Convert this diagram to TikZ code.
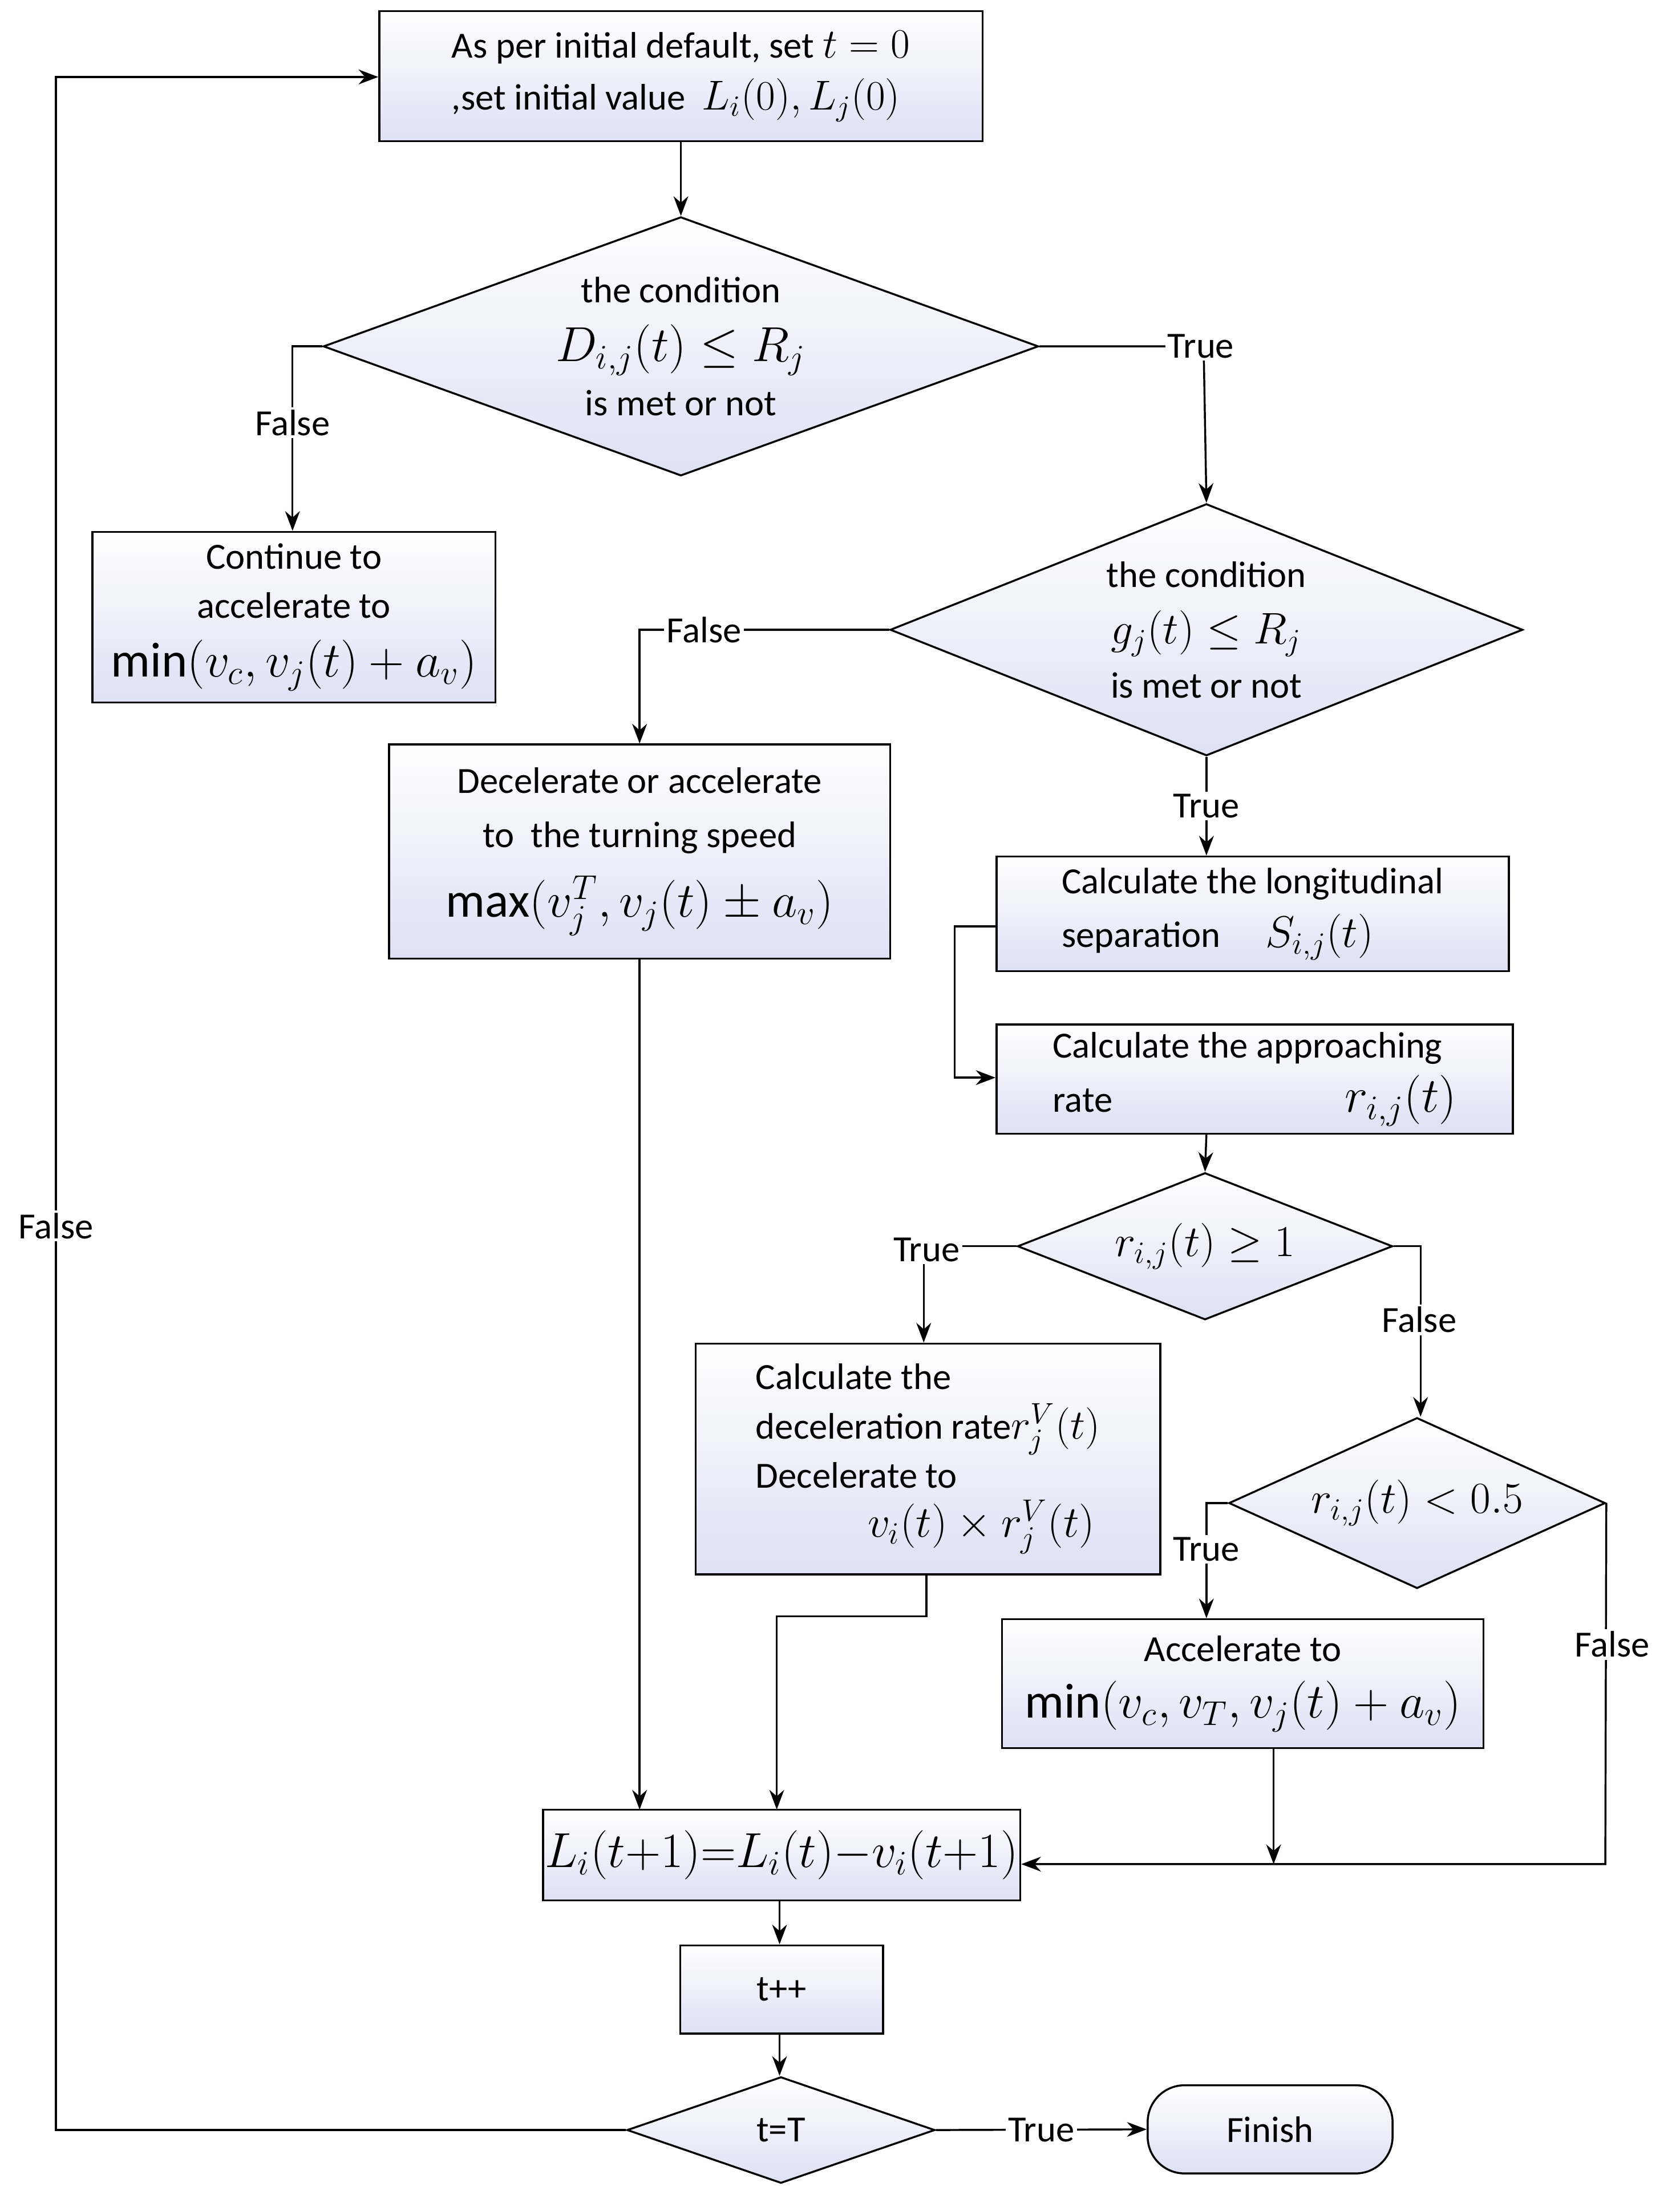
\documentclass[tikz,border=0pt]{standalone}
\usepackage{fix-cm}
\usepackage{fontspec}
\setmainfont{Carlito}
\usetikzlibrary{shapes.geometric,arrows.meta}
\definecolor{shadeb}{RGB}{222,224,244}
\newcommand{\mS}{\fontsize{17}{20}\selectfont}
\newcommand{\mM}{\fontsize{18}{21}\selectfont}
\newcommand{\mL}{\fontsize{20}{23}\selectfont}
\pgfdeclarelayer{bg}
\pgfsetlayers{bg,main}
\begin{document}
\fontsize{15}{18}\selectfont
\begin{tikzpicture}[x=0.02cm,y=-0.02cm,
  box/.style={draw,line width=0.8pt,top color=white,bottom color=shadeb,align=center,inner sep=2pt},
  dia/.style={draw,line width=0.8pt,diamond,top color=white,bottom color=shadeb,align=center,inner sep=0pt},
  arr/.style={line width=0.8pt,-{Stealth[length=8pt,width=6pt]}},
  lab/.style={fill=white,inner sep=1pt}]
\useasboundingbox (0,0) rectangle (1200,1577);
% boxes
\node[box,minimum width=431*0.02cm,minimum height=93*0.02cm,align=left] (b1) at (486.5,54.5) {As per initial default, set {\mS$t=0$}\\[3pt],set initial value \ {\mS$L_i(0),L_j(0)$}};
\node[dia,minimum width=511*0.02cm,minimum height=185*0.02cm] (d1) at (486.5,247.5) {};
\node[align=center] at (d1) {the condition\\[6pt] {\mL $D_{i,j}(t)\le R_j$}\\[4pt] is met or not};
\node[box,minimum width=288*0.02cm,minimum height=122*0.02cm] (b2) at (210,441) {Continue to\\[2pt] accelerate to\\[6pt] {\mL $\min(v_c,v_j(t)+a_v)$}};
\node[dia,minimum width=452*0.02cm,minimum height=180*0.02cm] (d2) at (862,450) {};
\node[align=center] at (d2) {the condition\\[5pt] {\mM $g_j(t)\le R_j$}\\[4pt] is met or not};
\node[box,minimum width=358*0.02cm,minimum height=153*0.02cm] (b3) at (457,608.5) {Decelerate or accelerate\\[4pt] to\ \ the turning speed\\[8pt] {\mL $\max(v_j^T,v_j(t)\pm a_v)$}};
\node[box,minimum width=366*0.02cm,minimum height=82*0.02cm,align=left] (b4) at (895,653) {Calculate the longitudinal\\[4pt] separation \quad {\mM $S_{i,j}(t)$}};
\node[box,minimum width=369*0.02cm,minimum height=78*0.02cm,align=left] (b5) at (896.5,771) {Calculate the approaching\\[4pt] rate \hspace{3.2cm}{\mL $r_{i,j}(t)$}};
\node[dia,minimum width=268*0.02cm,minimum height=105*0.02cm] (d3) at (861,890.5) {};
\node at (d3) {\mM $r_{i,j}(t)\ge1$};
\node[box,minimum width=332*0.02cm,minimum height=165*0.02cm,align=left] (b6) at (663,1042.5) {Calculate the\\[2pt] deceleration rate{\mS$r_j^V(t)$}\\[2pt] Decelerate to\\[2pt] \hspace{1.6cm}{\mM $v_i(t)\times r_j^V(t)$}};
\node[dia,minimum width=269*0.02cm,minimum height=122*0.02cm] (d4) at (1012.5,1074) {};
\node at (d4) {\mM $r_{i,j}(t)<0.5$};
\node[box,minimum width=344*0.02cm,minimum height=92*0.02cm] (b7) at (888,1203) {Accelerate to\\[5pt] {\mL $\min(v_c,v_T,v_j(t)+a_v)$}};
\node[box,minimum width=341*0.02cm,minimum height=65*0.02cm,inner sep=0pt] (b8) at (558.5,1325.5) {\fontsize{20}{22}\selectfont $L_i(t{+}1){=}L_i(t){-}v_i(t{+}1)$};
\node[box,minimum width=145*0.02cm,minimum height=63*0.02cm] (b9) at (558.5,1421.5) {t++};
\node[dia,minimum width=220*0.02cm,minimum height=76*0.02cm] (d5) at (558,1522) {};
\node at (d5) {t=T};
\node[box,rounded corners=15pt,minimum width=175*0.02cm,minimum height=63*0.02cm] (fin) at (907.5,1521.5) {Finish};
% coordinates
\coordinate (f1) at (40,1522);
\coordinate (f2) at (40,55);
% connectors
\begin{pgfonlayer}{bg}
\draw[arr] (b1.south) -- (d1.north);
\draw[arr] (d1.west) -- (209,247.5) -- (b2.north -| 209,0);
\draw[arr] (d1.east) -- (860,247.5) -- (d2.north);
\draw[arr] (d2.west) -- (457,450) -- (b3.north);
\draw[arr] (d2.south) -- (b4.north -| d2.south);
\draw[arr] (b4.west |- 0,662) -- (682,662) -- (682,770) -- (b5.west |- 0,770);
\draw[arr] (862,810) -- (d3.north);
\draw[arr] (d3.west) -- (660,890.5) -- (b6.north -| 660,0);
\draw[arr] (d3.east) -- (1015,890.5) -- (d4.north -| 1015,0);
\draw[arr] (d4.west) -- (862,1074) -- (b7.north -| 862,0);
\draw[arr] (d4.east) -- (1147,1332) -- (b8.east |- 0,1332);
\draw[arr] (910,1249) -- (910,1332);
\draw[arr] (b3.south) -- (457,1293);
\draw[arr] (662,1125) -- (662,1155) -- (555,1155) -- (555,1293);
\draw[arr] (b8.south -| 557,0) -- (b9.north -| 557,0);
\draw[arr] (b9.south -| 557,0) -- (d5.north -| 557,0);
\draw[arr] (d5.east) -- (fin.west);
\draw[arr] (d5.west) -- (f1) -- (f2) -- (b1.west |- f2);
\end{pgfonlayer}
\node[lab] at (209,302) {False};
\node[lab] at (858,247.5) {True};
\node[lab] at (503,450) {False};
\node[lab] at (862,576) {True};
\node[lab] at (662,893) {True};
\node[lab] at (1014,943) {False};
\node[lab] at (862,1107) {True};
\node[lab] at (1152,1175) {False};
\node[lab] at (744,1522) {True};
\node[lab] at (40,876) {False};
\end{tikzpicture}
\end{document}
